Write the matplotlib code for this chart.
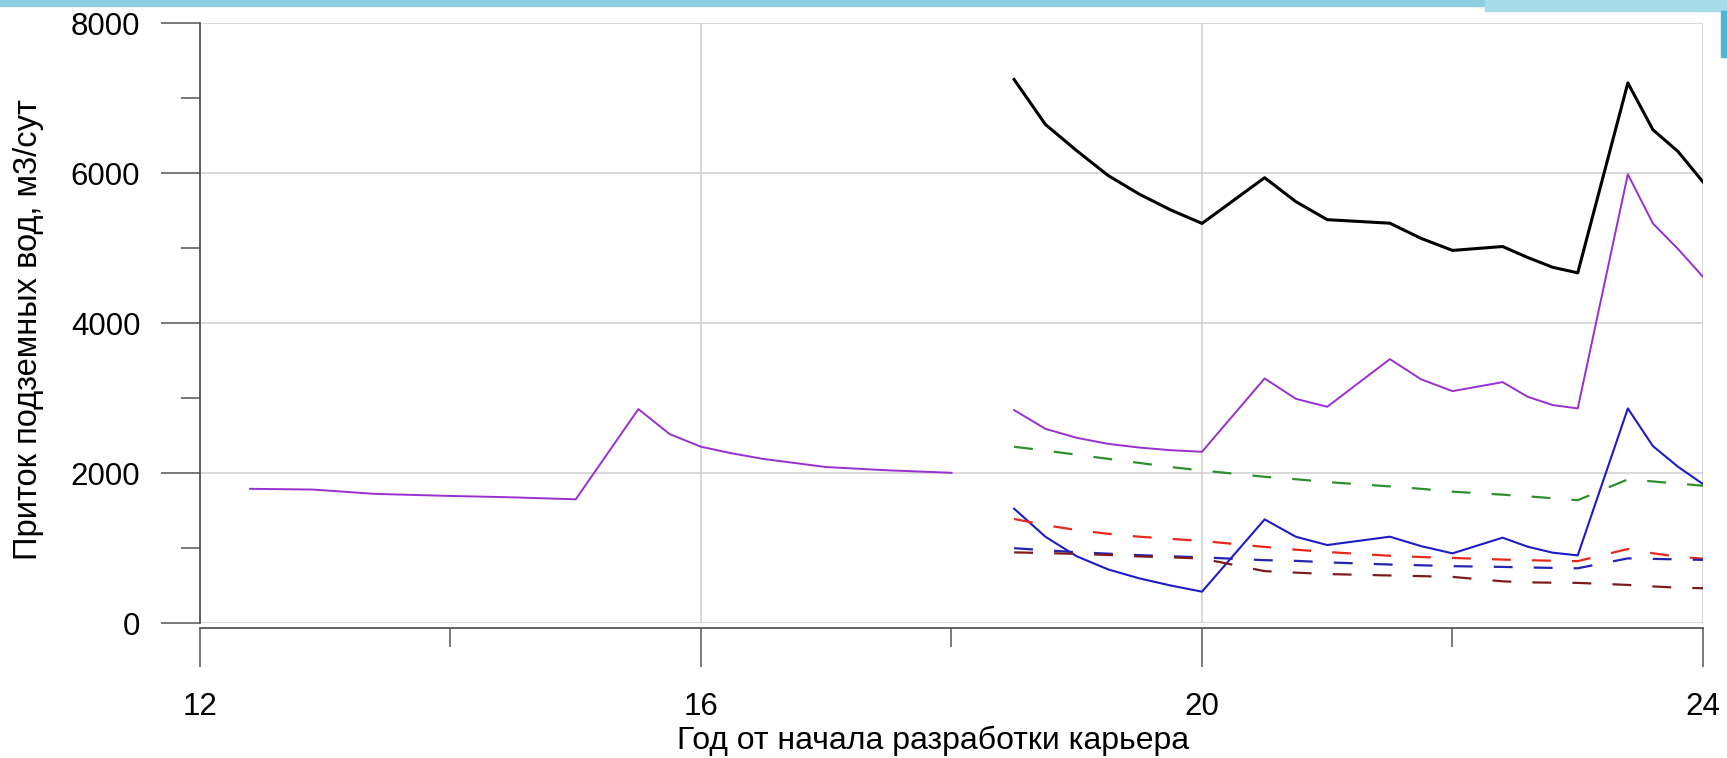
import matplotlib
matplotlib.use("Agg")
from matplotlib import pyplot as plt
from matplotlib.patches import Rectangle
from matplotlib.ticker import MultipleLocator

plt.rcParams['font.family'] = ['Liberation Sans', 'DejaVu Sans']

# first part of the purple curve (before the other series start)
years_early = [12.4, 12.9, 13.4, 14.0, 14.5, 15.0, 15.5, 15.75, 16.0, 16.25, 16.5, 17.0, 17.5, 18.0]
total_early = [1790, 1780, 1722, 1695, 1676, 1650, 2853, 2520, 2351, 2262, 2188, 2080, 2036, 2004]

# all series from 18.5 on share the same time steps
years = [18.5, 18.75, 19.0, 19.25, 19.5, 19.75, 20.0, 20.5, 20.75, 21.0, 21.5,
         21.75, 22.0, 22.4, 22.6, 22.8, 23.0, 23.4, 23.6, 23.8, 24.0]
black = [7250, 6650, 6300, 5970, 5720, 5510, 5330, 5940, 5620, 5380, 5333,
         5130, 4970, 5022, 4876, 4745, 4671, 7204, 6580, 6290, 5884]
purple = [2840, 2590, 2470, 2390, 2340, 2305, 2284, 3262, 2990, 2884, 3520,
          3250, 3093, 3213, 3018, 2907, 2862, 5987, 5330, 4990, 4618]
green = [2351, 2300, 2245, 2190, 2135, 2080, 2035, 1950, 1918, 1880, 1822,
         1790, 1752, 1712, 1690, 1664, 1638, 1916, 1888, 1860, 1831]
blue = [1525, 1150, 890, 715, 595, 500, 418, 1382, 1150, 1040, 1151,
        1025, 929, 1138, 1018, 938, 902, 2862, 2360, 2085, 1853]
red = [1388, 1305, 1240, 1190, 1151, 1122, 1095, 1015, 978, 947, 897,
       880, 868, 846, 838, 830, 825, 987, 930, 884, 858]
dark_blue = [998, 970, 945, 925, 905, 890, 876, 838, 829, 809, 780,
             770, 758, 748, 741, 735, 730, 862, 855, 849, 842]
dark_red = [942, 933, 922, 908, 888, 876, 860, 692, 672, 653, 634,
            625, 615, 556, 542, 538, 535, 508, 488, 471, 464]

fig = plt.figure(figsize=(17.27, 7.58), dpi=100)

# slide decoration along the top edge and the right side
fig.patches.append(Rectangle((0, 0.992), 0.86, 0.008, transform=fig.transFigure,
                             color="#8fcde0", zorder=0))
fig.patches.append(Rectangle((0.86, 0.985), 0.14, 0.015, transform=fig.transFigure,
                             color="#a6dbe9", zorder=0))
fig.patches.append(Rectangle((0.9965, 0.925), 0.0035, 0.06, transform=fig.transFigure,
                             color="#4db5d6", zorder=0))

ax = fig.add_axes([0.1158, 0.1781, 0.8703, 0.7912])

dash = (8.5, 9.5)
ax.plot(years_early, total_early, color="#9a2fcf", lw=1.4)
ax.plot(years, purple, color="#9a2fcf", lw=1.4)
ax.plot(years, black, color="black", lw=2.2)
ax.plot(years, blue, color="#1c1cc8", lw=1.5)
ax.plot(years, green, color="#2f8f2f", lw=1.6, dashes=dash)
ax.plot(years, red, color="#e8281c", lw=1.6, dashes=dash)
ax.plot(years, dark_blue, color="#2424b4", lw=1.6, dashes=dash)
ax.plot(years, dark_red, color="#7e1c1c", lw=1.6, dashes=dash)

ax.set_xlim(12, 24)
ax.set_ylim(0, 8000)
ax.xaxis.set_major_locator(MultipleLocator(4))
ax.xaxis.set_minor_locator(MultipleLocator(2))
ax.yaxis.set_major_locator(MultipleLocator(2000))
ax.yaxis.set_minor_locator(MultipleLocator(1000))

ax.grid(True, which="major", color="#cfcfcf", lw=1.1)
ax.set_axisbelow(True)

for side in ["top", "right"]:
    ax.spines[side].set_visible(False)
ax.spines["left"].set_color("#555555")
ax.spines["left"].set_linewidth(1.3)
ax.spines["bottom"].set_color("#555555")
ax.spines["bottom"].set_linewidth(1.3)
ax.spines["bottom"].set_position(("outward", 3.6))

ax.tick_params(which="major", length=28, width=1.1, color="#555555",
               labelsize=22.5, pad=15)
ax.tick_params(which="minor", length=14, width=1.1, color="#555555")
ax.tick_params(axis="x", which="major", pad=18)

ax.set_xlabel("Год от начала разработки карьера", fontsize=23)
ax.set_ylabel("Приток подземных вод, м3/сут", fontsize=23.5)
ax.xaxis.label.set_verticalalignment("center")
ax.yaxis.label.set_verticalalignment("center")
ax.xaxis.set_label_coords(0.4877, -0.197)
ax.yaxis.set_label_coords(-0.114, 0.49)

fig.savefig("out.png", dpi=100)
